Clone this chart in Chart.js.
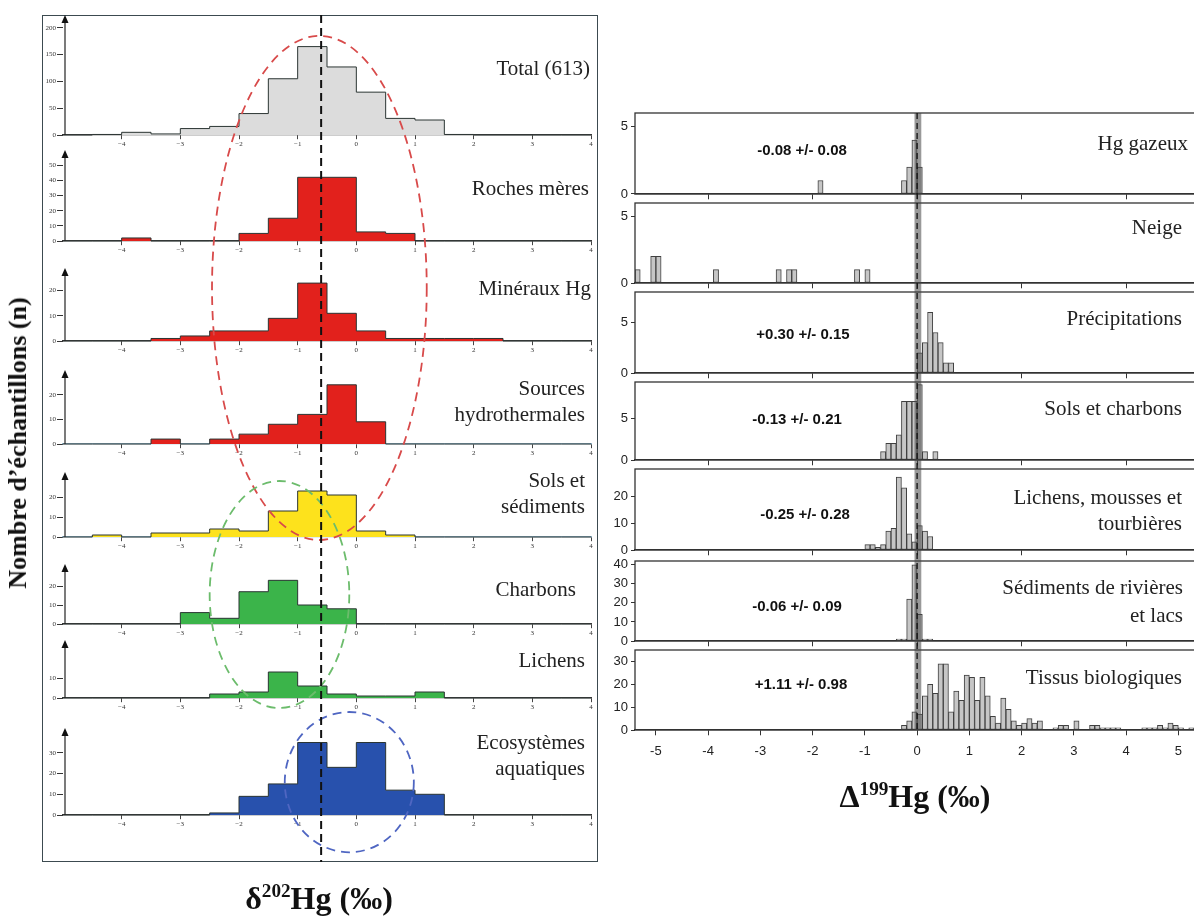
<!DOCTYPE html>
<html lang="fr">
<head>
<meta charset="utf-8">
<title>δ202Hg et Δ199Hg</title>
<script src="https://cdn.jsdelivr.net/npm/chart.js"></script>
<style>
  html, body { margin: 0; background: #fff; }
  body { position: relative; width: 1194px; height: 916px; overflow: hidden; font-family: "Liberation Serif", serif; color: #222; }
  .frame { position: absolute; left: 42px; top: 15px; width: 556px; height: 847px; box-sizing: border-box; border: 1.5px solid #3c4a50; }
  #left  { position: absolute; left: 0; top: 0; }
  #right { position: absolute; left: 590px; top: 100px; }
  .lbl   { position: absolute; transform: translateY(-50%); text-align: right; font-size: 21px; line-height: 26px; white-space: nowrap; }
  .mean  { position: absolute; transform: translate(-50%, -50%); font: bold 15px "Liberation Sans", sans-serif; white-space: nowrap; color: #111; }
  .title { position: absolute; font-weight: bold; white-space: nowrap; transform: translate(-50%, -50%); color: #111; }
  .title sup { font-size: 60%; vertical-align: super; line-height: 0; }
  #ytitle { left: 18px; top: 443px; font-size: 26px; transform: translate(-50%, -50%) rotate(-90deg); }
</style>
</head>
<body>
<div class="frame"></div>
<canvas id="left" width="600" height="916"></canvas>
<canvas id="right" width="604" height="700"></canvas>

<!-- left panel labels -->
<div class="lbl" style="right:604px;top:68px">Total (613)</div>
<div class="lbl" style="right:605px;top:188px">Roches mères</div>
<div class="lbl" style="right:603px;top:288px">Minéraux Hg</div>
<div class="lbl" style="right:609px;top:401px">Sources<br>hydrothermales</div>
<div class="lbl" style="right:609px;top:493px">Sols et<br>sédiments</div>
<div class="lbl" style="right:618px;top:589px">Charbons</div>
<div class="lbl" style="right:609px;top:660px">Lichens</div>
<div class="lbl" style="right:609px;top:755px">Ecosystèmes<br>aquatiques</div>

<!-- right panel labels -->
<div class="lbl" style="right:6px;top:143px">Hg gazeux</div>
<div class="lbl" style="right:12px;top:227px">Neige</div>
<div class="lbl" style="right:12px;top:318px">Précipitations</div>
<div class="lbl" style="right:12px;top:408px">Sols et charbons</div>
<div class="lbl" style="right:12px;top:510px">Lichens, mousses et<br>tourbières</div>
<div class="lbl" style="right:11px;top:601px;line-height:28px">Sédiments de rivières<br>et lacs</div>
<div class="lbl" style="right:12px;top:677px">Tissus biologiques</div>

<div class="mean" style="left:802px;top:149px">-0.08 +/- 0.08</div>
<div class="mean" style="left:803px;top:333px">+0.30 +/- 0.15</div>
<div class="mean" style="left:797px;top:418px">-0.13 +/- 0.21</div>
<div class="mean" style="left:805px;top:513px">-0.25 +/- 0.28</div>
<div class="mean" style="left:797px;top:605px">-0.06 +/- 0.09</div>
<div class="mean" style="left:801px;top:683px">+1.11 +/- 0.98</div>

<div class="title" id="ytitle">Nombre d’échantillons (n)</div>
<div class="title" style="left:319px;top:898px;font-size:32px">δ<sup>202</sup>Hg (‰)</div>
<div class="title" style="left:915px;top:796px;font-size:32px">Δ<sup>199</sup>Hg (‰)</div>

<script>
// ── δ202Hg histograms: 0.5 ‰ bins from −5 to +4 ─────────────────────────────
const leftBinStart = -5
const leftBinWidth = 0.5
const totalCounts    = [0, 1, 5, 2, 12, 16, 40, 105, 165, 127, 80, 31, 28, 1, 0, 0, 0, 0]
const rochesCounts   = [0, 0, 2, 0, 0, 0, 5, 15, 42, 42, 6, 5, 0, 0, 0, 0, 0, 0]
const minerauxCounts = [0, 0, 0, 1, 2, 4, 4, 9, 23, 11, 4, 1, 1, 1, 1, 0, 0, 0]
const sourcesCounts  = [0, 0, 0, 2, 0, 2, 4, 8, 12, 24, 9, 0, 0, 0, 0, 0, 0, 0]
const solsCounts     = [0, 1, 0, 2, 2, 4, 3, 13, 23, 21, 3, 1, 0, 0, 0, 0, 0, 0]
const charbonsCounts = [0, 0, 0, 0, 6, 3, 17, 23, 10, 8, 0, 0, 0, 0, 0, 0, 0, 0]
const lichensCounts  = [0, 0, 0, 0, 0, 2, 3, 13, 6, 2, 1, 1, 3, 0, 0, 0, 0, 0]
const ecosCounts     = [0, 0, 0, 0, 0, 1, 9, 15, 35, 23, 35, 12, 10, 0, 0, 0, 0, 0]

const leftXTicks     = [-4, -3, -2, -1, 0, 1, 2, 3, 4]
const totalTicks     = [0, 50, 100, 150, 200]
const rochesTicks    = [0, 10, 20, 30, 40, 50]
const tenTwentyTicks = [0, 10, 20]
const lichensTicks   = [0, 10]
const ecosTicks      = [0, 10, 20, 30]
const leftMean = -0.6

// ── Δ199Hg histograms: 0.1 ‰ bins (bin centre, count) ───────────────────────
const gazeuxX = [-1.85, -0.25, -0.15, -0.05, 0.05]
const gazeuxN = [1, 1, 2, 4, 2]
const neigeX  = [-5.35, -5.05, -4.95, -3.85, -2.65, -2.45, -2.35, -1.15, -0.95]
const neigeN  = [1, 2, 2, 1, 1, 1, 1, 1, 1]
const precipX = [0.05, 0.15, 0.25, 0.35, 0.45, 0.55, 0.65]
const precipN = [2, 3, 6, 4, 3, 1, 1]
const solsChX = [-0.65, -0.55, -0.45, -0.35, -0.25, -0.15, -0.05, 0.05, 0.15, 0.35]
const solsChN = [1, 2, 2, 3, 7, 7, 7, 9, 1, 1]
const lichMX  = [-0.95, -0.85, -0.75, -0.65, -0.55, -0.45, -0.35, -0.25, -0.15, -0.05, 0.05, 0.15, 0.25]
const lichMN  = [2, 2, 1, 2, 7, 8, 27, 23, 6, 3, 9, 7, 5]
const sedX    = [-0.35, -0.25, -0.15, -0.05, 0.05, 0.15, 0.25]
const sedN    = [1, 1, 22, 40, 14, 1, 1]
const tissusX = [-0.25, -0.15, -0.05, 0.05, 0.15, 0.25, 0.35, 0.45, 0.55, 0.65, 0.75, 0.85, 0.95, 1.05,
                 1.15, 1.25, 1.35, 1.45, 1.55, 1.65, 1.75, 1.85, 1.95, 2.05, 2.15, 2.25, 2.35, 2.65,
                 2.75, 2.85, 3.05, 3.35, 3.45, 3.55, 3.65, 3.75, 3.85, 4.35, 4.45, 4.55, 4.65, 4.75,
                 4.85, 4.95, 5.05, 5.25]
const tissusN = [2, 4, 8, 7, 15, 20, 16, 29, 29, 8, 17, 13, 24, 23,
                 13, 23, 15, 6, 3, 14, 9, 4, 2, 3, 5, 3, 4, 1,
                 2, 2, 4, 2, 2, 1, 1, 1, 1, 1, 1, 1, 2, 1,
                 3, 2, 1, 1]

const rightMinorTicks = [-4, -2, 0, 2, 4]
const rightXTicks     = [-5, -4, -3, -2, -1, 0, 1, 2, 3, 4, 5]
const fiveTicks       = [0, 5]
const lichMTicks      = [0, 10, 20]
const sedTicks        = [0, 10, 20, 30, 40]
const tissusTicks     = [0, 10, 20, 30]
const rightRef  = 0
const zeroBand  = [-0.05, 0.08]
const rightBinWidth = 0.1

// ── Panel layout / styles ────────────────────────────────────────────────────
// box = pixel height of the plot, gap = free pixels under it (x tick labels)
const RED = '#e2211c', GREEN = '#3bb44a'
const leftPanels = [
  { counts: totalCounts,    ticks: totalTicks,     fill: '#dcdcdc', axis: '#3a3a3a', max: 224, box: 120, gap: 15 },
  { counts: rochesCounts,   ticks: rochesTicks,    fill: RED,       axis: '#3a3a3a', max: 60,  box: 91,  gap: 27 },
  { counts: minerauxCounts, ticks: tenTwentyTicks, fill: RED,       axis: '#3a3a3a', max: 29,  box: 73,  gap: 29 },
  { counts: sourcesCounts,  ticks: tenTwentyTicks, fill: RED,       axis: '#8db3c9', max: 30,  box: 74,  gap: 28 },
  { counts: solsCounts,     ticks: tenTwentyTicks, fill: '#fde21c', axis: '#8db3c9', max: 32.5, box: 65, gap: 27 },
  { counts: charbonsCounts, ticks: tenTwentyTicks, fill: GREEN,     axis: '#3a3a3a', max: 31.6, box: 60, gap: 16 },
  { counts: lichensCounts,  ticks: lichensTicks,   fill: GREEN,     axis: '#3a3a3a', max: 29,  box: 58,  gap: 30 },
  { counts: ecosCounts,     ticks: ecosTicks,      fill: '#2851ad', axis: '#3a3a3a', max: 42,  box: 87,  gap: 0 }
]
const ellipses = [
  { cx: -0.63, rx: 1.83, top: ['yl0', 185], bottom: ['yl4', -1.5], color: '#d84a4a' },
  { cx: -1.31, rx: 1.19, top: ['yl4', 28],  bottom: ['yl6', -5],   color: '#6cbc6c' },
  { cx: -0.12, rx: 1.10, top: ['yl6', -7],  bottom: ['yl7', -18],  color: '#4f66c2' }
]

const rightPanels = [
  { x: gazeuxX, n: gazeuxN, ticks: fiveTicks,   max: 6,   box: 81, gap: 9 },
  { x: neigeX,  n: neigeN,  ticks: fiveTicks,   max: 6,   box: 80, gap: 9 },
  { x: precipX, n: precipN, ticks: fiveTicks,   max: 8,   box: 81, gap: 9 },
  { x: solsChX, n: solsChN, ticks: fiveTicks,   max: 9.3, box: 78, gap: 9 },
  { x: lichMX,  n: lichMN,  ticks: lichMTicks,  max: 30,  box: 81, gap: 11 },
  { x: sedX,    n: sedN,    ticks: sedTicks,    max: 42,  box: 80, gap: 9 },
  { x: tissusX, n: tissusN, ticks: tissusTicks, max: 35,  box: 80, gap: 0 }
]

const setTicks = values => axis => { axis.ticks = values.map(v => ({ value: v })) }

// ── Left chart: one stacked y axis and one x axis per histogram ─────────────
function stepPoints(counts) {
  const pts = [{ x: leftBinStart, y: 0 }]
  counts.forEach((c, i) => pts.push({ x: leftBinStart + i * leftBinWidth, y: c }))
  pts.push({ x: leftBinStart + counts.length * leftBinWidth, y: 0 })
  return pts
}

const serifTiny = { family: 'Liberation Serif', size: 7 }
const leftScales = {}
// stacked left axes are laid out with the last declared on top, so go bottom-up
for (let i = leftPanels.length - 1; i >= 0; i--) {
  const p = leftPanels[i]
  leftScales['yl' + i] = {
    type: 'linear', axis: 'y', position: 'left', stack: 'L', stackWeight: p.box + p.gap,
    min: -p.max * p.gap / p.box, max: p.max,
    afterFit: s => { s.width = 21 },
    afterBuildTicks: setTicks(p.ticks),
    border: { display: false },
    grid: { drawOnChartArea: false, tickLength: 6, color: '#333' },
    ticks: { font: serifTiny, color: '#333', padding: 1, autoSkip: false, callback: v => String(v) }
  }
}
leftPanels.forEach((p, i) => {
  leftScales['xl' + i] = {
    type: 'linear', axis: 'x', position: { ['yl' + i]: 0 }, min: -5, max: 4,
    afterBuildTicks: setTicks(leftXTicks),
    border: { color: p.axis, width: 1.2 },
    grid: { drawOnChartArea: false, tickLength: 4, color: '#444' },
    ticks: { font: serifTiny, color: '#333', padding: 1, autoSkip: false, maxRotation: 0,
             callback: v => v < 0 ? '\u2212' + Math.abs(v) : String(v) }
  }
})

const leftOverlay = {
  id: 'leftOverlay',
  afterDraw(chart) {
    const { ctx, chartArea, scales } = chart
    const x = scales.xl0
    ctx.save()
    // y axes with arrow heads
    leftPanels.forEach((p, i) => {
      const y = scales['yl' + i]
      const x0 = chartArea.left + 2
      const yTop = y.getPixelForValue(p.max), yBase = y.getPixelForValue(0)
      ctx.strokeStyle = '#222'; ctx.lineWidth = 1.2
      ctx.beginPath(); ctx.moveTo(x0, yBase); ctx.lineTo(x0, yTop + 6); ctx.stroke()
      ctx.fillStyle = '#111'
      ctx.beginPath(); ctx.moveTo(x0, yTop); ctx.lineTo(x0 - 3.5, yTop + 8); ctx.lineTo(x0 + 3.5, yTop + 8)
      ctx.closePath(); ctx.fill()
    })
    // group ellipses
    ctx.setLineDash([9, 6]); ctx.lineWidth = 1.8
    ellipses.forEach(e => {
      const t = scales[e.top[0]].getPixelForValue(e.top[1])
      const b = scales[e.bottom[0]].getPixelForValue(e.bottom[1])
      const cx = x.getPixelForValue(e.cx)
      const rx = x.getPixelForValue(e.cx + e.rx) - cx
      ctx.strokeStyle = e.color
      ctx.beginPath(); ctx.ellipse(cx, (t + b) / 2, rx, (b - t) / 2, 0, 0, Math.PI * 2); ctx.stroke()
    })
    // mean line
    ctx.setLineDash([8, 5]); ctx.lineWidth = 2; ctx.strokeStyle = '#111'
    const xm = x.getPixelForValue(leftMean)
    ctx.beginPath(); ctx.moveTo(xm, chartArea.top); ctx.lineTo(xm, chartArea.bottom + 47); ctx.stroke()
    ctx.restore()
  }
}

new Chart(document.getElementById('left'), {
  type: 'line',
  data: {
    datasets: leftPanels.map((p, i) => ({
      data: stepPoints(p.counts), xAxisID: 'xl' + i, yAxisID: 'yl' + i,
      stepped: true, fill: 'origin', backgroundColor: p.fill, borderColor: '#2b3533',
      borderWidth: 1, pointRadius: 0, clip: false
    }))
  },
  options: {
    responsive: false, animation: false, events: [],
    layout: { autoPadding: false, padding: { left: 42, top: 15, right: 9, bottom: 101 } },
    plugins: { legend: { display: false }, tooltip: { enabled: false } },
    scales: leftScales
  },
  plugins: [leftOverlay]
})

// ── Right chart: stacked framed histograms ──────────────────────────────────
const sansTick = { family: 'Liberation Sans', size: 13 }
const rightScales = {}
for (let i = rightPanels.length - 1; i >= 0; i--) {
  const p = rightPanels[i]
  rightScales['yr' + i] = {
    type: 'linear', axis: 'y', position: 'left', stack: 'R', stackWeight: p.box + p.gap,
    min: -p.max * p.gap / p.box, max: p.max,
    afterFit: s => { s.width = 25 },
    afterBuildTicks: setTicks(p.ticks),
    border: { display: false },
    grid: { drawOnChartArea: false, tickLength: 4, color: '#333' },
    ticks: { font: sansTick, color: '#222', padding: 3, autoSkip: false, callback: v => String(v) }
  }
}
rightPanels.forEach((p, i) => {
  const last = i === rightPanels.length - 1
  rightScales['xr' + i] = {
    type: 'linear', axis: 'x', position: { ['yr' + i]: 0 }, min: -5.4, max: 5.3,
    offset: false,
    afterBuildTicks: setTicks(last ? rightXTicks : rightMinorTicks),
    border: { color: '#333', width: 1.3 },
    grid: { offset: false, drawOnChartArea: false, tickLength: 5, color: '#333' },
    ticks: { display: last, font: sansTick, color: '#222', padding: 9, autoSkip: false, maxRotation: 0,
             callback: v => String(v) }
  }
})

const rightOverlay = {
  id: 'rightOverlay',
  afterDraw(chart) {
    const { ctx, chartArea, scales } = chart
    const x = scales.xr0
    ctx.save()
    ctx.strokeStyle = '#333'; ctx.lineWidth = 1.3
    rightPanels.forEach((p, i) => {
      const y = scales['yr' + i]
      const top = y.getPixelForValue(p.max), base = y.getPixelForValue(0)
      ctx.strokeRect(chartArea.left, top, chartArea.right - chartArea.left + 5, base - top)
    })
    const yTop = scales.yr0.getPixelForValue(rightPanels[0].max)
    const yBot = scales['yr' + (rightPanels.length - 1)].getPixelForValue(0)
    const b0 = x.getPixelForValue(zeroBand[0]), b1 = x.getPixelForValue(zeroBand[1])
    ctx.fillStyle = 'rgba(70,70,70,0.55)'
    ctx.fillRect(b0, yTop, b1 - b0, yBot - yTop)
    ctx.setLineDash([6, 4]); ctx.strokeStyle = '#111'; ctx.lineWidth = 1.3
    const xz = x.getPixelForValue(rightRef)
    ctx.beginPath(); ctx.moveTo(xz, yTop); ctx.lineTo(xz, yBot); ctx.stroke()
    ctx.restore()
  }
}

const rightChart = new Chart(document.getElementById('right'), {
  type: 'bar',
  data: {
    datasets: rightPanels.map((p, i) => ({
      data: p.x.map((v, k) => ({ x: v, y: p.n[k] })), xAxisID: 'xr' + i, yAxisID: 'yr' + i,
      backgroundColor: '#c6c6c6', borderColor: '#404040', borderWidth: 1, borderSkipped: false,
      grouped: false, barPercentage: 1, categoryPercentage: 1
    }))
  },
  options: {
    responsive: false, animation: false, events: [],
    layout: { autoPadding: false, padding: { left: 20, top: 13, right: 0, bottom: 70 } },
    plugins: { legend: { display: false }, tooltip: { enabled: false } },
    scales: rightScales
  },
  plugins: [rightOverlay]
})

// bars are one bin (0.1 ‰) wide on the value axis
const xr = rightChart.scales.xr0
const binPx = xr.getPixelForValue(rightBinWidth) - xr.getPixelForValue(0)
rightChart.data.datasets.forEach(d => { d.barThickness = binPx })
rightChart.update('none')
</script>
</body>
</html>
